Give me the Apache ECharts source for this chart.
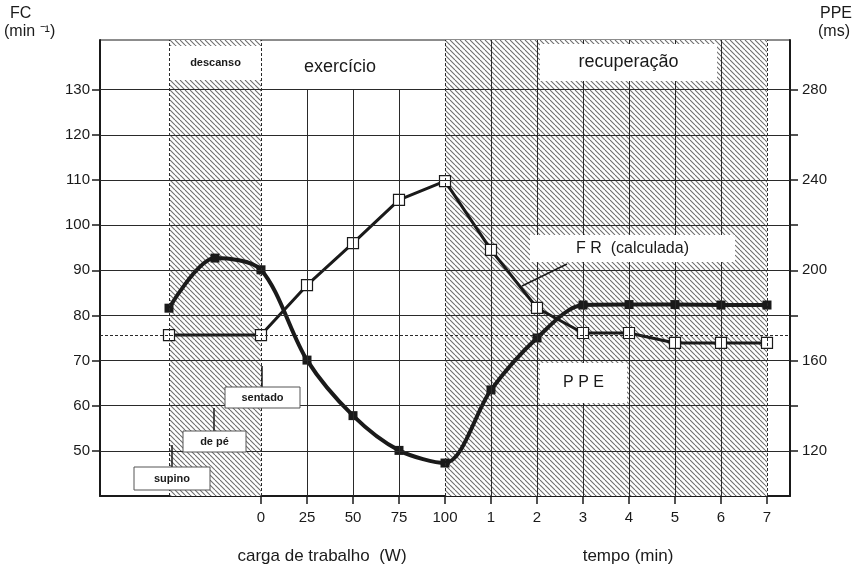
<!DOCTYPE html>
<html>
<head>
<meta charset="utf-8">
<script src="https://cdn.jsdelivr.net/npm/echarts@6/dist/echarts.min.js"></script>
<style>
	html, body { margin: 0; padding: 0; background: #fff; }
	#chart { width: 856px; height: 571px; }
</style>
</head>
<body>
<div id="chart"></div>
<script>
// x positions: -2 = start of rest, 0..4 = load 0..100 W, 5..11 = recovery 1..7 min
const xTickPos = [0, 1, 2, 3, 4, 5, 6, 7, 8, 9, 10, 11]
const xLabels = ['0', '25', '50', '75', '100', '1', '2', '3', '4', '5', '6', '7']

// FC (min-1), left axis
const fcPos = [-2, -1, 0, 1, 2, 3, 4, 5, 6, 7, 8, 9, 10, 11]
const fcVals = [81.6, 92.7, 90.1, 70.1, 57.8, 50.1, 47.3, 63.5, 75.0, 82.3, 82.4, 82.4, 82.3, 82.3]

// PPE (ms), right axis
const ppePos = [-2, 0, 1, 2, 3, 4, 5, 6, 7, 8, 9, 10, 11]
const ppeVals = [171.3, 171.3, 193.4, 212.0, 231.2, 239.5, 209.0, 183.3, 172.2, 172.2, 167.8, 167.8, 167.8]
const ppeBase = 171.3

// axis ticks
const fcTicks = [50, 60, 70, 80, 90, 100, 110, 120, 130]
const ppeLabels = [120, 160, 200, 240, 280]
const ppeTicks = [120, 140, 160, 180, 200, 220, 240, 260, 280]

// phase borders and grid columns
const phaseLines = [-2, 0, 4, 11]
const exerciseCols = [1, 2, 3]
const recoveryCols = [5, 6, 7, 8, 9, 10]
const hatchZones = [[-2, 0], [4, 11]]

const font = '"Liberation Sans", Arial, sans-serif'
const ink = '#1a1a1a'

function makeHatch() {
	const c = document.createElement('canvas')
	c.width = 5
	c.height = 5
	const ctx = c.getContext('2d')
	ctx.fillStyle = '#fff'
	ctx.fillRect(0, 0, 5, 5)
	ctx.strokeStyle = '#6e6e6e'
	ctx.lineWidth = 1.1
	for (const k of [-5, 0, 5]) {
		ctx.beginPath()
		ctx.moveTo(k, 0)
		ctx.lineTo(k + 5, 5)
		ctx.stroke()
	}
	return c
}

const chart = echarts.init(document.getElementById('chart'), null, { renderer: 'canvas' })

const gridLineStyle = { color: '#2a2a2a', width: 1, type: 'solid' }
const dashStyle = { color: '#2a2a2a', width: 1, type: [3, 2] }

const gridMarks = []
fcTicks.forEach(v => gridMarks.push({ yAxis: v, lineStyle: gridLineStyle }))
exerciseCols.forEach(v => gridMarks.push([
	{ coord: [v, 40], lineStyle: gridLineStyle },
	{ coord: [v, 130] }
]))
recoveryCols.forEach(v => gridMarks.push({ xAxis: v, lineStyle: gridLineStyle }))
phaseLines.forEach(v => gridMarks.push({ xAxis: v, lineStyle: dashStyle }))

function box(x, y, w, h, text, size, opts = {}) {
	return {
		type: 'group',
		z: 100,
		children: [
			{
				type: 'rect',
				shape: { x: x, y: y, width: w, height: h },
				style: { fill: '#fff', stroke: opts.border ? '#555' : null, lineWidth: 1 },
				z: 100
			},
			{
				type: 'text',
				x: x + w / 2,
				y: y + h / 2,
				style: {
					text: text, font: (opts.weight || 'normal') + ' ' + size + 'px ' + font,
					fill: ink, align: 'center', verticalAlign: 'middle'
				},
				z: 101
			}
		]
	}
}

function stick(x1, y1, x2, y2, w) {
	return {
		type: 'line', z: 100,
		shape: { x1: x1, y1: y1, x2: x2, y2: y2 },
		style: { stroke: ink, lineWidth: w || 1.5 }
	}
}

function label(x, y, text, size, align) {
	return {
		type: 'text', x: x, y: y, z: 100,
		style: { text: text, font: size + 'px ' + font, fill: ink, align: align || 'left' }
	}
}

chart.setOption({
	backgroundColor: '#fff',
	animation: false,
	grid: {
		left: 100, right: 66, top: 40, bottom: 75,
		show: true, borderColor: ink, borderWidth: 1
	},
	xAxis: {
		type: 'value', min: -3.5, max: 11.5, interval: 0.5,
		axisLine: { onZero: false, lineStyle: { color: ink, width: 2 } },
		axisTick: { customValues: xTickPos, length: 8, lineStyle: { color: ink, width: 1.5 } },
		axisLabel: {
			customValues: xTickPos, margin: 14,
			formatter: v => xLabels[xTickPos.indexOf(v)],
			fontFamily: font, fontSize: 15, color: ink
		},
		splitLine: { show: false }
	},
	yAxis: [
		{
			type: 'value', min: 40, max: 141, interval: 10, position: 'left',
			axisLine: { show: true, onZero: false, lineStyle: { color: ink, width: 2 } },
			axisTick: { show: true, customValues: fcTicks, length: 8, lineStyle: { color: ink, width: 1.5 } },
			axisLabel: { customValues: fcTicks, margin: 10, fontFamily: font, fontSize: 15, color: ink },
			splitLine: { show: false }
		},
		{
			type: 'value', min: 100, max: 302, interval: 20, position: 'right',
			axisLine: { show: true, onZero: false, lineStyle: { color: ink, width: 2 } },
			axisTick: { show: true, customValues: ppeTicks, length: 8, lineStyle: { color: ink, width: 1.5 } },
			axisLabel: { customValues: ppeLabels, margin: 12, fontFamily: font, fontSize: 15, color: ink },
			splitLine: { show: false }
		}
	],
	series: [
		{
			name: 'hatch', type: 'line', data: [], z: 0, silent: true,
			markArea: {
				silent: true,
				itemStyle: { color: { image: makeHatch(), repeat: 'repeat' } },
				data: hatchZones.map(z => [{ xAxis: z[0] }, { xAxis: z[1] }])
			}
		},
		{
			name: 'grid', type: 'line', data: [], z: 1, silent: true,
			markLine: {
				silent: true, symbol: ['none', 'none'], label: { show: false },
				lineStyle: gridLineStyle,
				data: gridMarks
			}
		},
		{
			name: 'FC', type: 'line', yAxisIndex: 0, z: 3,
			data: fcPos.map((p, i) => [p, fcVals[i]]),
			smooth: 0.3,
			symbol: 'rect', symbolSize: 9,
			lineStyle: { color: ink, width: 4 },
			itemStyle: { color: ink }
		},
		{
			name: 'PPE', type: 'line', yAxisIndex: 1, z: 4,
			data: ppePos.map((p, i) => [p, ppeVals[i]]),
			symbol: 'rect', symbolSize: 11,
			lineStyle: { color: ink, width: 3 },
			itemStyle: { color: '#fff', borderColor: ink, borderWidth: 1.2 },
			markLine: {
				silent: true, symbol: ['none', 'none'], label: { show: false },
				lineStyle: dashStyle,
				data: [{ yAxis: ppeBase }]
			}
		}
	],
	graphic: [
		box(170, 46, 91, 34, 'descanso', 11, { weight: 'bold' }),
		label(340, 58, 'exercício', 18, 'center'),
		box(540, 44, 177, 37, 'recuperação', 18),
		box(530, 235, 205, 27, 'F R  (calculada)', 16),
		box(540, 363, 87, 40, 'P P E', 16),
		stick(567, 264, 522, 286, 1.5),
		stick(262, 387, 262, 366),
		box(225, 387, 75, 21, 'sentado', 11, { border: true, weight: 'bold' }),
		stick(214, 431, 214, 408),
		box(183, 431, 63, 21, 'de pé', 11, { border: true, weight: 'bold' }),
		stick(172, 467, 172, 445),
		box(134, 467, 76, 23, 'supino', 11, { border: true, weight: 'bold' }),
		label(10, 6, 'FC', 16),
		label(4, 24, '(min ⁻¹)', 16),
		label(820, 6, 'PPE', 16),
		label(818, 24, '(ms)', 16),
		label(322, 548, 'carga de trabalho  (W)', 17, 'center'),
		label(628, 548, 'tempo (min)', 17, 'center')
	]
})
</script>
</body>
</html>
